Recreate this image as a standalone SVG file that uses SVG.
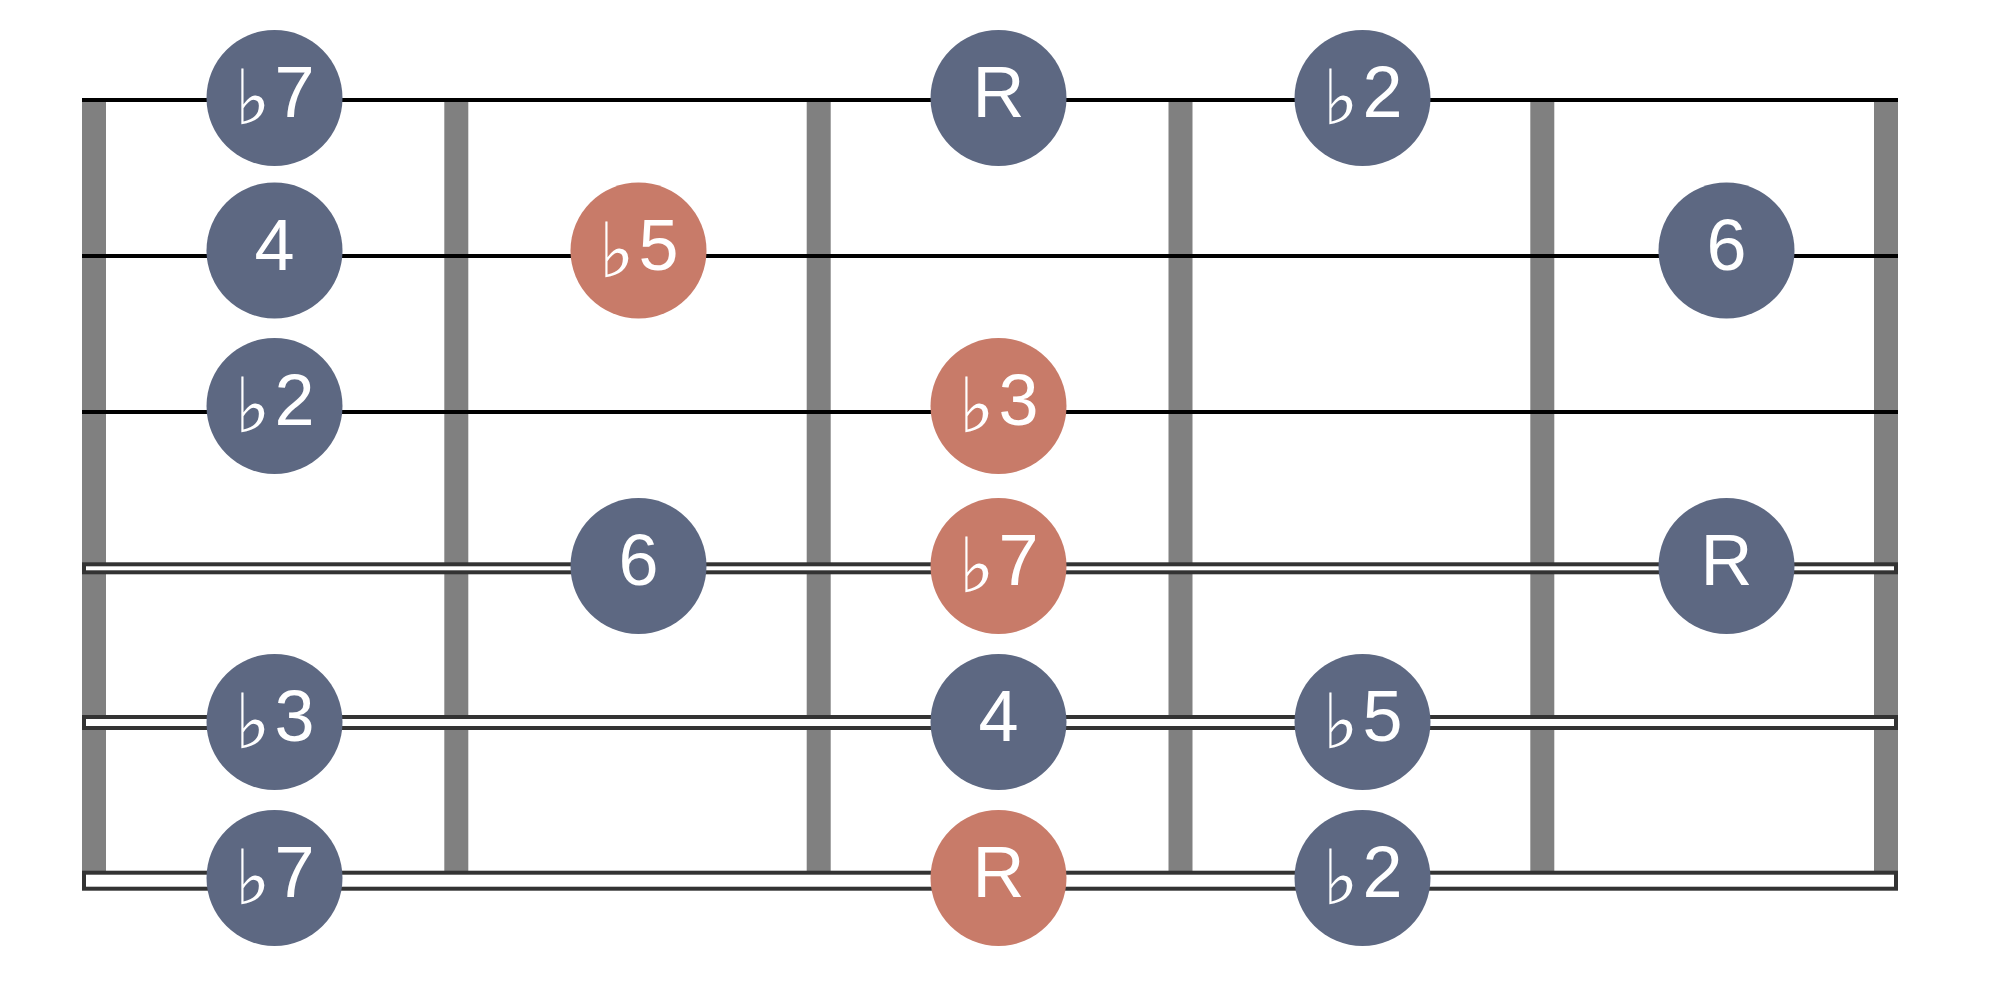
<svg xmlns="http://www.w3.org/2000/svg" width="2000" height="1000" viewBox="0 0 2000 1000">
<style>
.fret{fill:#808080}
.str{stroke:#000;stroke-width:4}
.wound{fill:#fff;stroke:#333;stroke-width:4}
.blue{fill:#5D6882}
.orange{fill:#C87B69}
.lbl{fill:#fff;font-family:"Liberation Sans","DejaVu Sans",sans-serif;font-size:72px;text-anchor:middle}
.flat{font-family:"DejaVu Sans","Liberation Sans",sans-serif;font-size:76px}
</style>
<rect width="2000" height="1000" fill="#fff"/>
<g id="fretboard">
<rect class="fret" x="82" y="98" width="24" height="792"/>
<rect class="fret" x="444.3" y="98" width="24" height="792"/>
<rect class="fret" x="806.7" y="98" width="24" height="792"/>
<rect class="fret" x="1168.5" y="98" width="24" height="792"/>
<rect class="fret" x="1530.3" y="98" width="24" height="792"/>
<rect class="fret" x="1874" y="98" width="24" height="792"/>
<line class="str" x1="82" y1="100" x2="1898" y2="100"/>
<line class="str" x1="82" y1="256" x2="1898" y2="256"/>
<line class="str" x1="82" y1="412" x2="1898" y2="412"/>
<rect class="wound" x="84" y="564.3" width="1812" height="8"/>
<rect class="wound" x="84" y="717" width="1812" height="11"/>
<rect class="wound" x="84" y="872.7" width="1812" height="16"/>
</g>
<g id="n1"><circle class="blue" cx="274.5" cy="98" r="68"/><text class="lbl" x="274.5" y="117"><tspan class="flat" dy="7">♭</tspan><tspan dx="4" dy="-7">7</tspan></text></g>
<g id="n2"><circle class="blue" cx="998.5" cy="98" r="68"/><text class="lbl" x="998.5" y="117">R</text></g>
<g id="n3"><circle class="blue" cx="1362.5" cy="98" r="68"/><text class="lbl" x="1362.5" y="117"><tspan class="flat" dy="7">♭</tspan><tspan dx="4" dy="-7">2</tspan></text></g>
<g id="n4"><circle class="blue" cx="274.5" cy="250.5" r="68"/><text class="lbl" x="274.5" y="269.5">4</text></g>
<g id="n5"><circle class="orange" cx="638.5" cy="250.5" r="68"/><text class="lbl" x="638.5" y="269.5"><tspan class="flat" dy="7">♭</tspan><tspan dx="4" dy="-7">5</tspan></text></g>
<g id="n6"><circle class="blue" cx="1726.5" cy="250.5" r="68"/><text class="lbl" x="1726.5" y="269.5">6</text></g>
<g id="n7"><circle class="blue" cx="274.5" cy="406" r="68"/><text class="lbl" x="274.5" y="425"><tspan class="flat" dy="7">♭</tspan><tspan dx="4" dy="-7">2</tspan></text></g>
<g id="n8"><circle class="orange" cx="998.5" cy="406" r="68"/><text class="lbl" x="998.5" y="425"><tspan class="flat" dy="7">♭</tspan><tspan dx="4" dy="-7">3</tspan></text></g>
<g id="n9"><circle class="blue" cx="638.5" cy="566" r="68"/><text class="lbl" x="638.5" y="585">6</text></g>
<g id="n10"><circle class="orange" cx="998.5" cy="566" r="68"/><text class="lbl" x="998.5" y="585"><tspan class="flat" dy="7">♭</tspan><tspan dx="4" dy="-7">7</tspan></text></g>
<g id="n11"><circle class="blue" cx="1726.5" cy="566" r="68"/><text class="lbl" x="1726.5" y="585">R</text></g>
<g id="n12"><circle class="blue" cx="274.5" cy="722" r="68"/><text class="lbl" x="274.5" y="741"><tspan class="flat" dy="7">♭</tspan><tspan dx="4" dy="-7">3</tspan></text></g>
<g id="n13"><circle class="blue" cx="998.5" cy="722" r="68"/><text class="lbl" x="998.5" y="741">4</text></g>
<g id="n14"><circle class="blue" cx="1362.5" cy="722" r="68"/><text class="lbl" x="1362.5" y="741"><tspan class="flat" dy="7">♭</tspan><tspan dx="4" dy="-7">5</tspan></text></g>
<g id="n15"><circle class="blue" cx="274.5" cy="878" r="68"/><text class="lbl" x="274.5" y="897"><tspan class="flat" dy="7">♭</tspan><tspan dx="4" dy="-7">7</tspan></text></g>
<g id="n16"><circle class="orange" cx="998.5" cy="878" r="68"/><text class="lbl" x="998.5" y="897">R</text></g>
<g id="n17"><circle class="blue" cx="1362.5" cy="878" r="68"/><text class="lbl" x="1362.5" y="897"><tspan class="flat" dy="7">♭</tspan><tspan dx="4" dy="-7">2</tspan></text></g>
</svg>
